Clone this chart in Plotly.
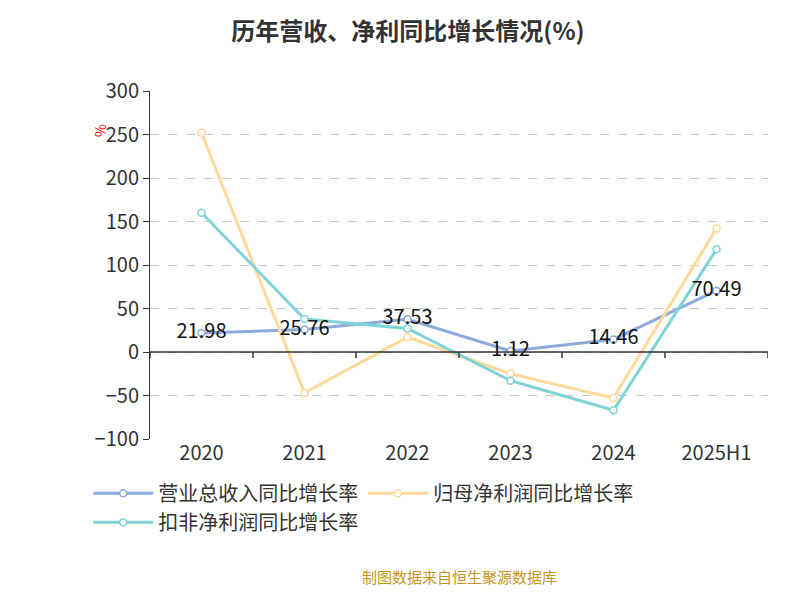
import plotly.graph_objects as go

years = ["2020", "2021", "2022", "2023", "2024", "2025H1"]
revenue = [21.98, 25.76, 37.53, 1.12, 14.46, 70.49]
parent_np = [252, -47, 17, -25, -53, 142]
deducted_np = [160, 38, 27, -33, -67, 118]
yticks = [-100, -50, 0, 50, 100, 150, 200, 250, 300]

xs = list(range(len(years)))
fig = go.Figure()
series = [("营业总收入同比增长率", revenue, "#8eaadb"),
          ("归母净利润同比增长率", parent_np, "#fdd99a"),
          ("扣非净利润同比增长率", deducted_np, "#7fd3d6")]
for name, vals, c in series:
    fig.add_trace(go.Scatter(x=xs, y=vals, name=name, mode="lines+markers",
                             line=dict(color=c, width=3),
                             marker=dict(symbol="circle", size=7, color="white",
                                         line=dict(color=c, width=1.5))))
fig.add_trace(go.Scatter(x=xs, y=revenue, mode="text", text=[f"{v:.2f}" for v in revenue],
                         textposition="middle center", textfont=dict(size=20, color="#111"),
                         showlegend=False, hoverinfo="skip"))

fig.add_shape(type="line", xref="x", yref="y", x0=-0.5, x1=5.5, y0=0, y1=0,
              line=dict(color="#333", width=1.5))
for b in [i - 0.5 for i in range(len(years) + 1)]:
    fig.add_shape(type="line", xref="x", yref="y", x0=b, x1=b, y0=0, y1=-7,
                  line=dict(color="#333", width=1.5))

fig.update_layout(
    width=800, height=600, plot_bgcolor="white", paper_bgcolor="white",
    margin=dict(l=142, r=40, t=83, b=169),
    title=dict(text="<b>历年营收、净利同比增长情况(%)</b>", x=0.5, y=0.975,
               xanchor="center", font=dict(size=24, color="#333")),
    font=dict(family="Noto Sans CJK SC", color="#333"),
    xaxis=dict(range=[-0.5, 5.5], tickvals=xs, ticktext=years, showgrid=False,
               zeroline=False, tickfont=dict(size=20, color="#333")),
    yaxis=dict(range=[-100, 300], tickvals=yticks, showgrid=True, gridcolor="#c8c8c8",
               griddash="dash", zeroline=False, showline=True, linecolor="#333",
               ticks="outside", ticklen=6, tickcolor="#333",
               tickfont=dict(size=20, color="#333")),
    legend=dict(orientation="h", x=-0.1, y=-0.1, xanchor="left", yanchor="top",
                font=dict(size=20, color="#333"), itemwidth=60, tracegroupgap=0),
)
fig.add_annotation(text="%", xref="paper", yref="paper", x=-0.1, y=0.91,
                   showarrow=False, textangle=-90, font=dict(size=14, color="red"))
fig.add_annotation(text="制图数据来自恒生聚源数据库", xref="paper", yref="paper",
                   x=0.5, xanchor="center", y=-0.43, showarrow=False,
                   font=dict(size=15, color="#c8961e"))
fig.write_html("out.html")
